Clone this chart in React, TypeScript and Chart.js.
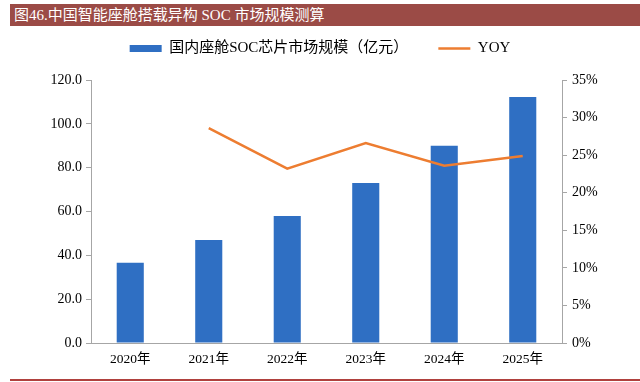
import React, { useEffect, useRef } from "react";
import { Chart, registerables } from "chart.js";

Chart.register(...registerables);

const categories = ["2020年", "2021年", "2022年", "2023年", "2024年", "2025年"];
const marketSize = [36.6, 47.0, 58.0, 73.0, 90.0, 112.3];
const yoy = [null, 0.286, 0.232, 0.266, 0.236, 0.249];
const barLabel = "国内座舱SOC芯片市场规模（亿元）";
const lineLabel = "YOY";
const titleText = "图46.中国智能座舱搭载异构 SOC 市场规模测算";

const FONT = '"Liberation Serif", "Times New Roman", "Noto Sans CJK SC", serif';

const LEGEND_PAD = 30;

const legendHeightPlugin = {
  id: "legendHeight",
  beforeInit(chart: any) {
    const legend = chart.legend;
    if (!legend) return;
    const orig = legend.fit;
    legend.fit = function () {
      orig.call(this);
      this.height = 80 - (41 - LEGEND_PAD);
    };
  },
};

export default function App() {
  const ref = useRef<HTMLCanvasElement>(null);
  useEffect(() => {
    if (!ref.current) return;
    const chart = new Chart(ref.current, {
      type: "bar",
      data: {
        labels: categories,
        datasets: [
          {
            type: "bar",
            label: barLabel,
            data: marketSize,
            backgroundColor: "#2F6FC3",
            borderWidth: 0,
            barPercentage: 0.345,
            categoryPercentage: 1,
            yAxisID: "y",
            pointStyle: "rect",
            order: 2,
          } as any,
          {
            type: "line",
            label: lineLabel,
            data: yoy,
            borderColor: "#ED7D31",
            backgroundColor: "#ED7D31",
            borderWidth: 2.5,
            pointRadius: 0,
            pointStyle: "line",
            tension: 0,
            yAxisID: "y1",
            order: 1,
          } as any,
        ],
      },
      options: {
        responsive: false,
        animation: false,
        layout: { padding: { top: 41 - LEGEND_PAD, left: 0, right: 0, bottom: 13 } },
        plugins: {
          tooltip: { enabled: false },
          legend: {
            position: "top",
            labels: {
              usePointStyle: true,
              pointStyleWidth: 32,
              boxHeight: 7,
              padding: LEGEND_PAD,
              color: "#000",
              font: { family: FONT, size: 15 },
              sort: (a: any, b: any) => a.datasetIndex - b.datasetIndex,
            },
          },
        },
        scales: {
          x: {
            grid: { display: true, drawOnChartArea: false, drawTicks: false, color: "#A6A6A6" },
            border: { color: "#A6A6A6", width: 1 },
            ticks: { color: "#000", padding: 8, font: { family: FONT, size: 13.5 } },
            afterFit(scale: any) {
              scale.height = 26;
            },
          },
          y: {
            position: "left",
            min: 0,
            max: 120,
            grid: { drawOnChartArea: false, drawTicks: true, tickLength: 5, color: "#A6A6A6" },
            border: { color: "#A6A6A6", width: 1 },
            ticks: {
              stepSize: 20,
              padding: 4,
              color: "#000",
              font: { family: FONT, size: 14 },
              callback: (v: any) => Number(v).toFixed(1),
            },
            afterFit(scale: any) {
              scale.width = 91;
            },
          },
          y1: {
            position: "right",
            min: 0,
            max: 0.35,
            grid: { drawOnChartArea: false, drawTicks: true, tickLength: 5, color: "#A6A6A6" },
            border: { color: "#A6A6A6", width: 1 },
            ticks: {
              stepSize: 0.05,
              padding: 5,
              color: "#000",
              font: { family: FONT, size: 14 },
              callback: (v: any) => Math.round(Number(v) * 100) + "%",
            },
            afterFit(scale: any) {
              scale.width = 78;
            },
          },
        },
      },
      plugins: [legendHeightPlugin],
    });
    return () => chart.destroy();
  }, []);

  return (
    <div style={{ position: "fixed", left: 0, top: 0, width: 640, height: 382, background: "#fff", overflow: "hidden" }}>
      <canvas ref={ref} width={640} height={382} style={{ position: "absolute", left: 0, top: 0, width: 640, height: 382 }} />
      <div
        style={{
          position: "absolute",
          left: 10,
          top: 4,
          width: 630,
          height: 22,
          background: "#9B4B46",
          color: "#fff",
          fontFamily: FONT,
          fontSize: 15,
          lineHeight: "22px",
          paddingLeft: 4,
          boxSizing: "border-box",
          whiteSpace: "nowrap",
        }}
      >
        {titleText}
      </div>
      <div style={{ position: "absolute", left: 10, top: 379, width: 630, height: 1.5, background: "#B0413E" }} />
    </div>
  );
}
